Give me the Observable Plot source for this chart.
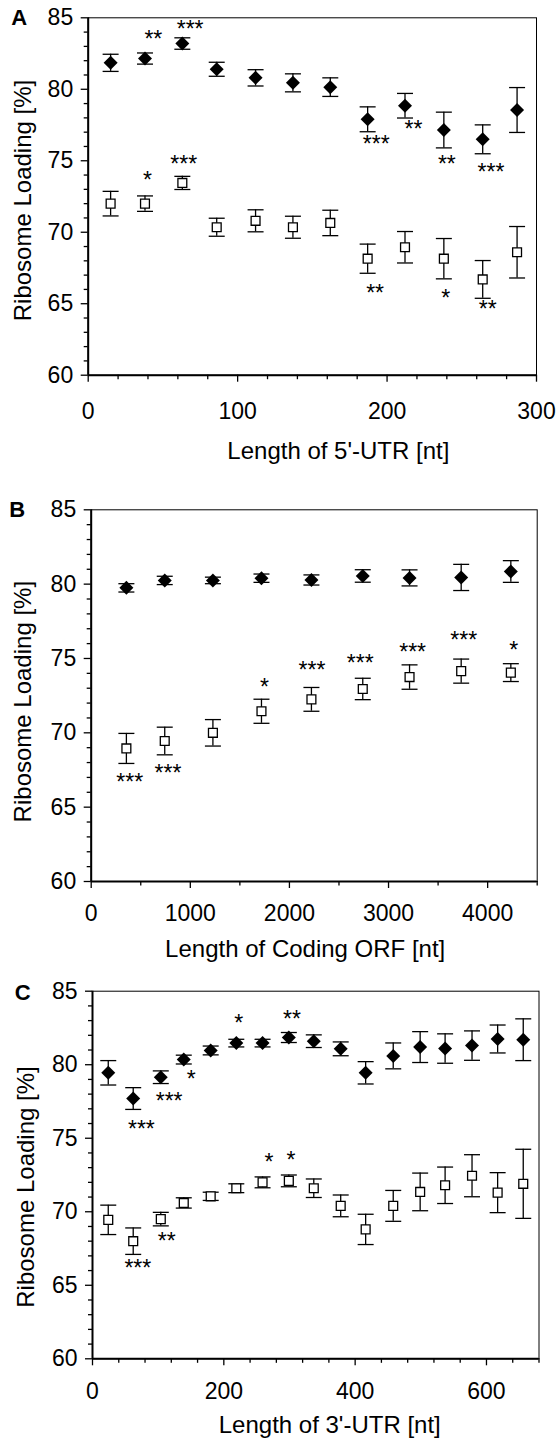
<!DOCTYPE html>
<html><head><meta charset="utf-8">
<script src="https://cdn.jsdelivr.net/npm/d3@7"></script>
<script src="https://cdn.jsdelivr.net/npm/@observablehq/plot@0.6"></script>
<style>
body{margin:0;background:#fff;}
#chart svg{display:block;}
</style></head><body><div id="chart"></div>
<script>
// ---------- Panel A: 5'-UTR ----------
const xA = [15, 38, 63, 86, 112, 137, 162, 187, 212, 238, 264, 287];
const filledA = [81.85, 82.15, 83.2, 81.4, 80.8, 80.45, 80.15, 77.9, 78.85, 77.15, 76.5, 78.55];
const filledErrA = [0.6, 0.39, 0.4, 0.49, 0.57, 0.63, 0.65, 0.87, 0.86, 1.25, 1.01, 1.57];
const openA = [72.0, 72.0, 73.45, 70.35, 70.8, 70.35, 70.65, 68.15, 68.95, 68.15, 66.7, 68.6];
const openErrA = [0.86, 0.54, 0.46, 0.63, 0.77, 0.77, 0.89, 1.02, 1.1, 1.41, 1.32, 1.8];
const starXA = [43.6, 68.2, 192.7, 217.7, 240, 269.5, 39.6, 63.9, 192, 239.2, 267.3];
const starYA = [83.88, 84.58, 76.54, 77.54, 75.14, 74.52, 73.98, 75.14, 66.06, 65.71, 64.96];
const starTextA = ["**", "***", "***", "**", "**", "***", "*", "***", "**", "*", "**"];
const xMajorA = [0, 100, 200, 300];
const xMinorA = [20, 40, 60, 80, 120, 140, 160, 180, 220, 240, 260, 280];

// ---------- Panel B: Coding ORF ----------
const xB = [355, 742, 1228, 1718, 2222, 2740, 3212, 3733, 4234];
const filledB = [79.75, 80.25, 80.25, 80.4, 80.28, 80.55, 80.42, 80.45, 80.85];
const filledErrB = [0.28, 0.28, 0.22, 0.28, 0.34, 0.42, 0.54, 0.88, 0.73];
const openB = [68.95, 69.45, 70.0, 71.45, 72.25, 72.95, 73.75, 74.15, 74.05];
const openErrB = [1.01, 0.93, 0.89, 0.81, 0.8, 0.72, 0.82, 0.81, 0.6];
const starXB = [389, 775, 1748, 2227, 2714, 3243, 3759, 4263];
const starYB = [67.05, 67.63, 73.44, 74.52, 75.04, 75.75, 76.54, 75.87];
const starTextB = ["***", "***", "*", "***", "***", "***", "***", "*"];
const xMajorB = [0, 1000, 2000, 3000, 4000];
const xMinorB = [500, 1500, 2500, 3500, 4500];

// ---------- Panel C: 3'-UTR ----------
const xC = [24, 62, 104, 139, 180, 219, 259, 299, 337, 378, 416, 458, 499, 537, 578, 617, 656];
const filledC = [79.45, 77.7, 79.15, 80.35, 80.97, 81.47, 81.47, 81.85, 81.6, 81.08, 79.45, 80.6, 81.2, 81.1, 81.3, 81.75, 81.7];
const filledErrC = [0.83, 0.74, 0.43, 0.3, 0.3, 0.26, 0.26, 0.34, 0.43, 0.47, 0.76, 0.88, 1.05, 1.0, 1.0, 0.95, 1.42];
const openC = [69.45, 68.0, 69.5, 70.6, 71.05, 71.6, 72.0, 72.1, 71.6, 70.4, 68.8, 70.4, 71.35, 71.8, 72.45, 71.3, 71.9];
const openErrC = [1.0, 0.9, 0.46, 0.35, 0.28, 0.3, 0.37, 0.4, 0.63, 0.74, 1.03, 1.05, 1.28, 1.24, 1.43, 1.36, 2.35];
const starXC = [222.6, 303.7, 74.4, 116.7, 150.4, 69, 112.9, 268.8, 302.4];
const starYC = [83.19, 83.42, 75.95, 77.87, 79.39, 66.49, 68.37, 73.69, 73.85];
const starTextC = ["*", "**", "***", "***", "*", "***", "**", "*", "*"];
const xMajorC = [0, 200, 400, 600];
const xMinorC = [40, 80, 120, 160, 240, 280, 320, 360, 440, 480, 520, 560, 640, 680];

// ---------- shared ----------
const yMajor = [60, 65, 70, 75, 80, 85];
const yMinor = d3.range(60, 86).filter(v => v % 5 !== 0);
const yLabel = "Ribosome Loading [%]";

const FONT = "'Liberation Sans', Arial, Helvetica, sans-serif";
const capSymbol = {draw(ctx) { ctx.moveTo(-8, 0); ctx.lineTo(8, 0); }};
const plain = d => String(d);

function panel(cfg) {
  const rows = cfg.x.map((x, i) => ({x, f: cfg.filled[i], fe: cfg.filledErr[i], o: cfg.open[i], oe: cfg.openErr[i]}));
  const stars = cfg.starX.map((x, i) => ({x, y: cfg.starY[i], t: cfg.starText[i]}));
  const sw = 1.3;
  return Plot.plot({
    width: 559,
    height: cfg.height,
    marginTop: cfg.mt, marginBottom: cfg.mb, marginLeft: cfg.ml, marginRight: cfg.mr,
    style: {fontFamily: FONT, color: "black", background: "white", overflow: "visible"},
    x: {domain: cfg.xDomain, label: null},
    y: {domain: [60, 85], label: null},
    marks: [
      // error bars
      Plot.ruleX(rows, {x: "x", y1: d => d.f - d.fe, y2: d => d.f + d.fe, stroke: "black", strokeWidth: sw}),
      Plot.ruleX(rows, {x: "x", y1: d => d.o - d.oe, y2: d => d.o + d.oe, stroke: "black", strokeWidth: sw}),
      Plot.dot(rows, {x: "x", y: d => d.f + d.fe, symbol: capSymbol, fill: "none", stroke: "black", strokeWidth: sw}),
      Plot.dot(rows, {x: "x", y: d => d.f - d.fe, symbol: capSymbol, fill: "none", stroke: "black", strokeWidth: sw}),
      Plot.dot(rows, {x: "x", y: d => d.o + d.oe, symbol: capSymbol, fill: "none", stroke: "black", strokeWidth: sw}),
      Plot.dot(rows, {x: "x", y: d => d.o - d.oe, symbol: capSymbol, fill: "none", stroke: "black", strokeWidth: sw}),
      // markers
      Plot.dot(rows, {x: "x", y: "f", symbol: "diamond2", r: 6.3, fill: "black", stroke: "none"}),
      Plot.dot(rows, {x: "x", y: "o", symbol: "square", r: 5, fill: "white", stroke: "black", strokeWidth: sw}),
      // significance stars
      Plot.text(stars, {x: "x", y: "y", text: "t", fontSize: 23, dy: 5.5, lineAnchor: "middle", textAnchor: "middle"}),
      // frame and axes
      Plot.frame({stroke: "black", strokeWidth: 1}),
      Plot.ruleX([cfg.xDomain[0]], {stroke: "black", strokeWidth: 2}),
      Plot.ruleY([60], {stroke: "black", strokeWidth: 2}),
      Plot.axisY({ticks: yMajor, tickSize: 7, tickPadding: 8, fontSize: 23, tickFormat: plain, strokeWidth: sw, label: null}),
      Plot.axisY({ticks: yMinor, tickSize: 4, tickFormat: () => "", strokeWidth: sw, label: null}),
      Plot.axisX({ticks: cfg.xMajor, tickSize: 7, tickPadding: cfg.xPad, fontSize: 23, tickFormat: plain, strokeWidth: sw, label: null}),
      Plot.axisX({ticks: cfg.xMinor, tickSize: 4.5, tickFormat: () => "", strokeWidth: sw, label: null}),
      // axis titles and panel letter
      Plot.text([cfg.xLabel], {frameAnchor: "bottom", dx: cfg.xLabelDx, dy: cfg.xLabelDy, fontSize: 24, lineAnchor: "middle", textAnchor: "middle"}),
      Plot.text([yLabel], {frameAnchor: "left", rotate: -90, dx: cfg.yLabelDx, dy: cfg.yLabelDy, fontSize: 24, lineAnchor: "middle", textAnchor: "middle"}),
      Plot.text([cfg.letter], {frameAnchor: "top-left", dx: cfg.letterDx, dy: cfg.letterDy, fontSize: 22, fontWeight: "bold", lineAnchor: "middle", textAnchor: "middle"})
    ]
  });
}

const chart = document.getElementById("chart");
chart.appendChild(panel({
  x: xA, filled: filledA, filledErr: filledErrA, open: openA, openErr: openErrA,
  starX: starXA, starY: starYA, starText: starTextA,
  xMajor: xMajorA, xMinor: xMinorA, xDomain: [0, 300],
  xLabel: "Length of 5'-UTR [nt]", letter: "A",
  height: 480, mt: 17.3, mb: 105.3, ml: 87.7, mr: 23,
  xPad: 20, xLabelDx: 26, xLabelDy: 76, yLabelDx: -64.7, yLabelDy: 4, letterDx: -69, letterDy: 0.5
}));
chart.appendChild(panel({
  x: xB, filled: filledB, filledErr: filledErrB, open: openB, openErr: openErrB,
  starX: starXB, starY: starYB, starText: starTextB,
  xMajor: xMajorB, xMinor: xMinorB, xDomain: [0, 4500],
  xLabel: "Length of Coding ORF [nt]", letter: "B",
  height: 480, mt: 29.3, mb: 79, ml: 90.7, mr: 22.3,
  xPad: 16.6, xLabelDx: -9, xLabelDy: 67.4, yLabelDx: -67.7, yLabelDy: 6, letterDx: -74, letterDy: 0
}));
chart.appendChild(panel({
  x: xC, filled: filledC, filledErr: filledErrC, open: openC, openErr: openErrC,
  starX: starXC, starY: starYC, starText: starTextC,
  xMajor: xMajorC, xMinor: xMinorC, xDomain: [0, 680],
  xLabel: "Length of 3'-UTR [nt]", letter: "C",
  height: 479, mt: 30.7, mb: 80.7, ml: 92, mr: 20.5,
  xPad: 17.3, xLabelDx: 14, xLabelDy: 66.7, yLabelDx: -66.2, yLabelDy: 12, letterDx: -69.7, letterDy: 2
}));
</script>
</body></html>
